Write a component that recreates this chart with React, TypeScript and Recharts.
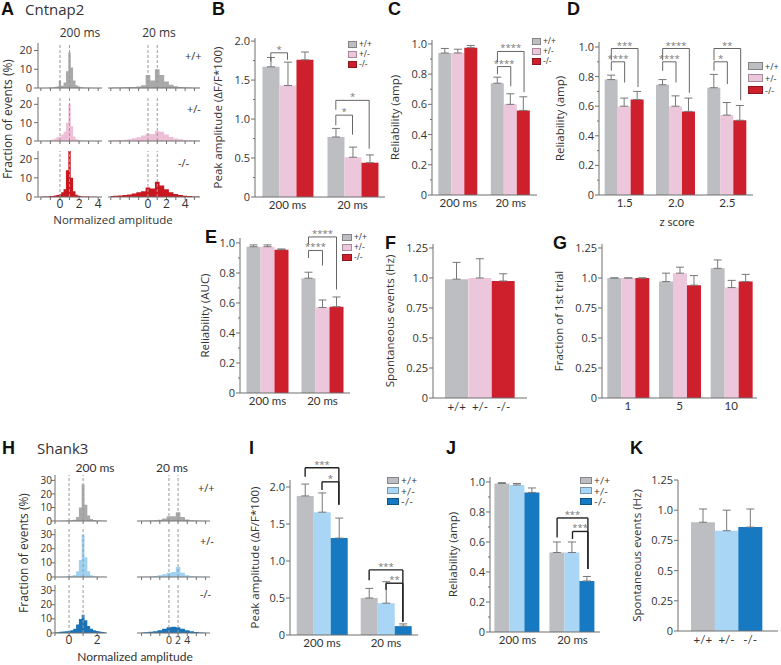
import React from 'react';
import { BarChart, Bar, XAxis, YAxis, ErrorBar, ReferenceLine, ReferenceDot, AreaChart, Area, Cell } from 'recharts';

const SANS = "'Open Sans', 'DejaVu Sans', sans-serif";
const NARROW = "Lato, 'Open Sans', sans-serif";
const BOLD = "'Liberation Sans', Arial, sans-serif";
const AXIS = '#6e6e6e';
const INK = '#333';
const ERR = '#777';

const GENO = ['+/+', '+/-', '-/-'];
const CNT_BAR = ['#bdbec2', '#ecc7dc', '#cd1f2c'];
const SHK_BAR = ['#bdbec2', '#a9d6f4', '#1779c1'];
const CNT_HIST = ['#a9a9a9', '#efbfd7', '#c9171f'];
const SHK_HIST = ['#a9a9a9', '#9fd1f2', '#1a73b7'];

// A - Cntnap2 amplitude histograms (% of events per bin)
const binsA200 = [-2, -1.75, -1.5, -1.25, -1, -0.75, -0.5, -0.25, 0, 0.25, 0.5, 0.75, 1, 1.25, 1.5, 1.75, 2, 2.25, 2.5, 2.75, 3, 3.25, 3.5, 3.75, 4];
const histA200WT = [0, 0, 0, 0.2, 0.3, 0.3, 0.5, 0.8, 4, 1.2, 3, 9, 19, 11, 4, 1.5, 0.8, 0.4, 0.3, 0.2, 0.1, 0.1, 0, 0, 0];
const histA200Het = [0, 0.1, 0.2, 0.3, 0.5, 0.8, 1.2, 2, 2.5, 3.5, 5, 10, 20, 8, 2.5, 1, 0.5, 0.3, 0.2, 0.1, 0, 0, 0, 0, 0];
const histA200KO = [0.1, 0.2, 0.3, 0.3, 0.5, 0.5, 0.8, 1, 1.5, 2.5, 4, 14, 24, 10, 3, 1.2, 0.6, 0.4, 0.3, 0.2, 0.2, 0.1, 0.1, 0.1, 0];
const binsA20 = [-4, -3.5, -3, -2.5, -2, -1.5, -1, -0.5, 0, 0.5, 1, 1.5, 2, 2.5, 3, 3.5, 4, 4.5, 5, 5.5];
const histA20WT = [0.2, 0.3, 0.3, 0.4, 0.5, 0.6, 0.8, 1.5, 7, 4, 10, 7, 3.5, 1.8, 1, 0.6, 0.4, 0.3, 0.2, 0.1];
const histA20Het = [0.3, 0.4, 0.5, 0.7, 1, 1.5, 2, 3, 4, 3.8, 5.5, 5, 3.5, 2.2, 1.4, 0.9, 0.6, 0.4, 0.3, 0.2];
const histA20KO = [0.5, 0.6, 0.8, 1, 1.3, 1.8, 2.5, 3, 5, 4.5, 8, 6, 4, 2.5, 1.6, 1, 0.7, 0.5, 0.3, 0.2];

// H - Shank3 amplitude histograms
const binsH200 = [-1, -0.8, -0.6, -0.4, -0.2, 0, 0.2, 0.4, 0.6, 0.8, 1, 1.2, 1.4, 1.6, 1.8, 2, 2.2, 2.4, 2.6];
const histH200WT = [0, 0, 0.1, 0.2, 0.3, 0.4, 0.6, 1, 3, 10, 27, 12, 4, 1.5, 0.8, 0.4, 0.3, 0.2, 0.1];
const histH200Het = [0, 0, 0, 0.1, 0.3, 0.5, 0.8, 1.5, 4, 12, 30, 14, 4, 1.2, 0.6, 0.3, 0.2, 0.1, 0];
const histH200KO = [0.3, 0.5, 0.8, 1, 1.2, 1.5, 2, 3, 6, 10, 13, 9, 5, 3, 2, 1.5, 1, 0.7, 0.5];
const binsH20 = [-6, -5, -4, -3, -2, -1, 0, 1, 2, 3, 4, 5, 6, 7, 8];
const histH20WT = [0.1, 0.2, 0.4, 0.6, 1, 1.8, 3.5, 3.5, 6.5, 3, 1.2, 0.6, 0.3, 0.2, 0.1];
const histH20Het = [0.1, 0.2, 0.4, 0.7, 1.2, 2, 3, 3.5, 7, 3, 1.2, 0.6, 0.3, 0.2, 0.1];
const histH20KO = [0.3, 0.5, 0.8, 1.2, 2, 3, 4, 4.5, 4, 3, 2, 1.2, 0.7, 0.4, 0.2];

// B-G Cntnap2 summary
const catsMs = ['200 ms', '20 ms'];
const peakCntWT = [1.67, 0.77];
const peakCntHet = [1.43, 0.51];
const peakCntKO = [1.76, 0.44];
const peakCntErrWT = [0.12, 0.11];
const peakCntErrHet = [0.3, 0.13];
const peakCntErrKO = [0.1, 0.1];

const relCntWT = [0.94, 0.74];
const relCntHet = [0.94, 0.6];
const relCntKO = [0.975, 0.56];
const relCntErrWT = [0.03, 0.04];
const relCntErrHet = [0.025, 0.07];
const relCntErrKO = [0.015, 0.09];

const zScores = ['1.5', '2.0', '2.5'];
const relZWT = [0.78, 0.745, 0.725];
const relZHet = [0.6, 0.6, 0.54];
const relZKO = [0.645, 0.565, 0.505];
const relZErrWT = [0.03, 0.035, 0.09];
const relZErrHet = [0.055, 0.07, 0.085];
const relZErrKO = [0.055, 0.09, 0.1];

const aucCntWT = [0.975, 0.765];
const aucCntHet = [0.975, 0.57];
const aucCntKO = [0.955, 0.575];
const aucCntErrWT = [0.012, 0.04];
const aucCntErrHet = [0.012, 0.05];
const aucCntErrKO = [0.005, 0.065];

const spontCnt = [0.99, 1.0, 0.975];
const spontCntErr = [0.14, 0.16, 0.06];

const trials = ['1', '5', '10'];
const fracWT = [1.0, 0.97, 1.08];
const fracHet = [1.0, 1.04, 0.92];
const fracKO = [1.0, 0.94, 0.97];
const fracErrWT = [0, 0.07, 0.07];
const fracErrHet = [0, 0.05, 0.06];
const fracErrKO = [0, 0.08, 0.06];

// I-K Shank3 summary
const peakShkWT = [1.88, 0.5];
const peakShkHet = [1.66, 0.43];
const peakShkKO = [1.31, 0.12];
const peakShkErrWT = [0.16, 0.13];
const peakShkErrHet = [0.26, 0.29];
const peakShkErrKO = [0.27, 0.03];

const relShkWT = [0.99, 0.53];
const relShkHet = [0.98, 0.53];
const relShkKO = [0.93, 0.34];
const relShkErrWT = [0.005, 0.07];
const relShkErrHet = [0.01, 0.07];
const relShkErrKO = [0.03, 0.03];

const spontShk = [0.9, 0.83, 0.86];
const spontShkErr = [0.11, 0.17, 0.15];

type Bracket = { g: number; a: number; b: number; top: number; la: number; lb: number; text: string };

// significance brackets: group, bar from/to, top value, leg bottoms
const sigB: Bracket[] = [
  { g: 0, a: 0, b: 1, top: 1.85, la: 1.74, lb: 1.76, text: '*' },
  { g: 1, a: 0, b: 2, top: 1.24, la: 1.12, lb: 0.62, text: '*' },
  { g: 1, a: 0, b: 1, top: 1.05, la: 0.92, lb: 0.8, text: '*' },
];
const sigC: Bracket[] = [
  { g: 1, a: 0, b: 2, top: 0.95, la: 0.88, lb: 0.68, text: '****' },
  { g: 1, a: 0, b: 1, top: 0.85, la: 0.8, lb: 0.72, text: '****' },
];
const sigD: Bracket[] = [
  { g: 0, a: 0, b: 2, top: 0.99, la: 0.91, lb: 0.73, text: '***' },
  { g: 0, a: 0, b: 1, top: 0.9, la: 0.84, lb: 0.76, text: '****' },
  { g: 1, a: 0, b: 2, top: 0.99, la: 0.91, lb: 0.69, text: '****' },
  { g: 1, a: 0, b: 1, top: 0.9, la: 0.84, lb: 0.76, text: '****' },
  { g: 2, a: 0, b: 2, top: 0.99, la: 0.91, lb: 0.64, text: '**' },
  { g: 2, a: 0, b: 1, top: 0.9, la: 0.84, lb: 0.75, text: '*' },
];
const sigE: Bracket[] = [
  { g: 1, a: 0, b: 2, top: 1.04, la: 0.99, lb: 0.69, text: '****' },
  { g: 1, a: 0, b: 1, top: 0.95, la: 0.9, lb: 0.85, text: '****' },
];
const sigI: Bracket[] = [
  { g: 0, a: 0, b: 2, top: 2.26, la: 2.14, lb: 1.76, text: '***' },
  { g: 0, a: 1, b: 2, top: 2.07, la: 1.96, lb: 1.76, text: '*' },
  { g: 1, a: 0, b: 2, top: 0.88, la: 0.74, lb: 0.18, text: '***' },
  { g: 1, a: 1, b: 2, top: 0.7, la: 0.61, lb: 0.18, text: '**' },
];
const sigJ: Bracket[] = [
  { g: 1, a: 0, b: 2, top: 0.76, la: 0.63, lb: 0.42, text: '***' },
  { g: 1, a: 1, b: 2, top: 0.67, la: 0.62, lb: 0.42, text: '***' },
];

const tk1 = [0, 0.2, 0.4, 0.6, 0.8, 1.0];
const tk1m = [0.1, 0.3, 0.5, 0.7, 0.9];
const tk2 = [0, 0.5, 1.0, 1.5, 2.0];
const tk2m = [0.25, 0.75, 1.25, 1.75];
const tkQ = [0, 0.25, 0.5, 0.75, 1.0, 1.25];

const fmt1 = (v: number) => (v === 0 ? '0' : v.toFixed(1));
const fmtQ = (v: number) => (v === 0 ? '0' : v === 0.5 ? '0.5' : v === 1 ? '1.0' : String(v));

type Box = { x: number; y: number; w: number; h: number };

const YW = 60;
const PT = 40;
const PR = 6;
const XH = 24;

function yTick(majors: number[], fmt: (v: number) => string, lg = 5, size = 11) {
  return (t: any) => {
    const v = t.payload.value as number;
    const major = majors.some((m) => Math.abs(m - v) < 1e-9);
    return (
      <g>
        <line x1={t.x - (major ? 4 : 2)} x2={t.x} y1={t.y} y2={t.y} stroke={AXIS} strokeWidth={1} />
        {major && (
          <text x={t.x - lg} y={t.y} dy="0.36em" textAnchor="end" fontSize={size} fontFamily={SANS} fill={INK}>
            {fmt(v)}
          </text>
        )}
      </g>
    );
  };
}

function xTick(labels: number[] | null, size = 12) {
  return (t: any) => {
    const v = t.payload.value as number;
    const show = labels !== null && labels.includes(v);
    return (
      <g>
        <line x1={t.x} x2={t.x} y1={t.y} y2={t.y + 3} stroke={AXIS} strokeWidth={1} />
        {show && (
          <text x={t.x} y={t.y + 11} textAnchor="middle" fontSize={size} fontFamily={SANS} fill={INK}>
            {v}
          </text>
        )}
      </g>
    );
  };
}

type GroupProps = {
  box: Box;
  cats: string[];
  series: number[][];
  errs: number[][];
  colors: string[];
  top: number;
  majors: number[];
  minors: number[];
  fmt: (v: number) => string;
  gap: number;
  sig: Bracket[];
  yLabel: string;
  yLabelX: number;
  heavy?: boolean;
  catFont?: string;
};

function GroupPanel(p: GroupProps) {
  const n = p.cats.length;
  const data = p.cats.map((c, i) => ({
    c,
    i,
    v0: p.series[0][i],
    v1: p.series[1][i],
    v2: p.series[2][i],
    e0: [0, p.errs[0][i]],
    e1: [0, p.errs[1][i]],
    e2: [0, p.errs[2][i]],
  }));
  const barX = (g: number, j: number) => g + p.gap + ((j + 0.5) * (1 - 2 * p.gap)) / 3;
  const stroke = p.heavy ? '#222' : '#555';
  const sw = p.heavy ? 1.4 : 0.9;
  const marks = p.sig.flatMap((b, k) => {
    const xa = barX(b.g, b.a);
    const xb = barX(b.g, b.b);
    return [
      <ReferenceLine key={`l${k}`} xAxisId="n" segment={[{ x: xa, y: b.la }, { x: xa, y: b.top }]} stroke={stroke} strokeWidth={sw} ifOverflow="visible" />,
      <ReferenceLine key={`t${k}`} xAxisId="n" segment={[{ x: xa, y: b.top }, { x: xb, y: b.top }]} stroke={stroke} strokeWidth={sw} ifOverflow="visible" />,
      <ReferenceLine key={`r${k}`} xAxisId="n" segment={[{ x: xb, y: b.top }, { x: xb, y: b.lb }]} stroke={stroke} strokeWidth={sw} ifOverflow="visible" />,
      <ReferenceDot
        key={`s${k}`}
        xAxisId="n"
        x={(xa + xb) / 2}
        y={b.top}
        r={0}
        fill="none"
        stroke="none"
        ifOverflow="visible"
        label={{ value: b.text, position: 'top', offset: 0, fill: '#777', fontSize: 9.5, fontFamily: SANS }}
      />,
    ];
  });
  const ticks = [...p.majors, ...p.minors].sort((a, b) => a - b);
  return (
    <div style={{ position: 'absolute', left: p.box.x - YW, top: p.box.y - PT }}>
      <BarChart
        width={YW + p.box.w + PR}
        height={PT + p.box.h + XH}
        data={data}
        margin={{ top: PT, right: PR, bottom: 0, left: 0 }}
        barCategoryGap={`${p.gap * 100}%`}
        barGap={0}
      >
        <XAxis
          dataKey="c"
          height={XH}
          interval={0}
          tickSize={0}
          tickMargin={4}
          axisLine={{ stroke: AXIS }}
          tickLine={false}
          tick={{ fontSize: 11.5, fontFamily: p.catFont || NARROW, fill: INK }}
        />
        <XAxis xAxisId="n" type="number" dataKey="i" domain={[0, n]} allowDataOverflow hide />
        <YAxis
          width={YW}
          domain={[0, p.top]}
          allowDataOverflow
          ticks={ticks}
          interval={0}
          tickSize={0}
          tickMargin={0}
          tickLine={false}
          axisLine={{ stroke: AXIS }}
          tick={yTick(p.majors, p.fmt)}
          label={{
            value: p.yLabel,
            angle: -90,
            position: 'insideLeft',
            offset: p.yLabelX - (p.box.x - YW),
            style: { textAnchor: 'middle', fontSize: 11.5, fontFamily: SANS, fill: INK },
          }}
        />
        {[0, 1, 2].map((j) => (
          <Bar key={j} dataKey={`v${j}`} fill={p.colors[j]} isAnimationActive={false}>
            <ErrorBar dataKey={`e${j}`} width={4} stroke={ERR} strokeWidth={1} direction="y" isAnimationActive={false} />
          </Bar>
        ))}
        {marks}
      </BarChart>
    </div>
  );
}

type GenoProps = {
  box: Box;
  vals: number[];
  errs: number[];
  colors: string[];
  top: number;
  pad: [number, number];
  yLabel: string;
  yLabelX: number;
};

function GenoPanel(p: GenoProps) {
  const data = GENO.map((c, i) => ({ c, v: p.vals[i], e: [0, p.errs[i]] }));
  return (
    <div style={{ position: 'absolute', left: p.box.x - YW, top: p.box.y - PT }}>
      <BarChart
        width={YW + p.box.w + PR}
        height={PT + p.box.h + XH}
        data={data}
        margin={{ top: PT, right: PR, bottom: 0, left: 0 }}
        barCategoryGap={0}
        barGap={0}
      >
        <XAxis
          dataKey="c"
          height={XH}
          interval={0}
          padding={{ left: p.pad[0], right: p.pad[1] }}
          tickSize={0}
          tickMargin={5}
          axisLine={{ stroke: AXIS }}
          tickLine={false}
          tick={{ fontSize: 11.5, fontFamily: NARROW, fill: INK }}
        />
        <YAxis
          width={YW}
          domain={[0, p.top]}
          allowDataOverflow
          ticks={tkQ}
          interval={0}
          tickSize={0}
          tickMargin={0}
          tickLine={false}
          axisLine={{ stroke: AXIS }}
          tick={yTick(tkQ, fmtQ)}
          label={{
            value: p.yLabel,
            angle: -90,
            position: 'insideLeft',
            offset: p.yLabelX - (p.box.x - YW),
            style: { textAnchor: 'middle', fontSize: 11.5, fontFamily: SANS, fill: INK },
          }}
        />
        <Bar dataKey="v" isAnimationActive={false}>
          {data.map((d, i) => (
            <Cell key={d.c} fill={p.colors[i]} />
          ))}
          <ErrorBar dataKey="e" width={4} stroke={ERR} strokeWidth={1} direction="y" isAnimationActive={false} />
        </Bar>
      </BarChart>
    </div>
  );
}

type HistProps = {
  box: Box;
  bins: number[];
  vals: number[];
  color: string;
  xDomain: [number, number];
  xTicks: number[];
  xLabels: number[] | null;
  showY: boolean;
  yTicks: number[];
  yTop: number;
  dashes: number[];
  yLabel?: string;
  yLabelX?: number;
  lg?: number;
  tickFont?: number;
  xFont?: number;
};

function HistRow(p: HistProps) {
  const yw = p.showY ? 40 : 0;
  const top = 6;
  const data = p.bins.map((x, i) => ({ x, v: p.vals[i] }));
  return (
    <div style={{ position: 'absolute', left: p.box.x - yw, top: p.box.y - top }}>
      <AreaChart width={yw + p.box.w} height={p.box.h + top + 16} data={data} margin={{ top, right: 0, bottom: 0, left: 0 }}>
        <XAxis
          type="number"
          dataKey="x"
          domain={p.xDomain}
          allowDataOverflow
          ticks={p.xTicks}
          interval={0}
          height={16}
          tickSize={0}
          tickMargin={0}
          tickLine={false}
          axisLine={{ stroke: AXIS }}
          tick={xTick(p.xLabels, p.xFont ?? 12)}
        />
        <YAxis
          hide={!p.showY}
          width={yw}
          domain={[0, p.yTop]}
          allowDataOverflow
          ticks={p.yTicks}
          interval={0}
          tickSize={0}
          tickMargin={0}
          tickLine={false}
          axisLine={{ stroke: AXIS }}
          tick={yTick(p.yTicks, (v) => String(v), p.lg ?? 6, p.tickFont ?? 11)}
          label={
            p.yLabel
              ? {
                  value: p.yLabel,
                  angle: -90,
                  position: 'insideLeft',
                  offset: (p.yLabelX ?? 0) - (p.box.x - yw),
                  style: { textAnchor: 'middle', fontSize: 12, fontFamily: SANS, fill: INK },
                }
              : undefined
          }
        />
        {p.dashes.map((d) => (
          <ReferenceLine key={d} x={d} stroke="#9a9a9a" strokeDasharray="3 2" />
        ))}
        <Area type="step" dataKey="v" stroke="none" fill={p.color} fillOpacity={1} isAnimationActive={false} dot={false} activeDot={false} />
      </AreaChart>
    </div>
  );
}

const Txt = ({ x, y, children, size = 11, family = SANS, weight = 400, anchor = 'start', color = INK }: any) => (
  <div
    style={{
      position: 'absolute',
      left: x,
      top: y,
      transform: `translate(${anchor === 'middle' ? '-50%' : anchor === 'end' ? '-100%' : '0'}, -50%)`,
      fontSize: size,
      fontFamily: family,
      fontWeight: weight,
      color,
      whiteSpace: 'nowrap',
      lineHeight: 1,
    }}
  >
    {children}
  </div>
);

const Key = ({ x, rows, colors, sw, sh, size, family = SANS }: any) => (
  <>
    {GENO.map((g, i) => (
      <React.Fragment key={g}>
        <div
          style={{
            position: 'absolute',
            left: x,
            top: rows[i] - sh / 2,
            width: sw,
            height: sh,
            background: colors[i],
            boxSizing: 'border-box',
            border: '1px solid rgba(0,0,0,0.3)',
          }}
        />
        <Txt x={x + sw + 2} y={rows[i]} size={size} family={family}>
          {g}
        </Txt>
      </React.Fragment>
    ))}
  </>
);

const Letter = ({ x, y, c }: any) => (
  <Txt x={x} y={y} size={18} family={BOLD} weight={700} color="#111">
    {c}
  </Txt>
);

export default function App() {
  const aRows = [
    { y: 43, h: 45 },
    { y: 97, h: 44 },
    { y: 151, h: 46 },
  ];
  const aLeft = [histA200WT, histA200Het, histA200KO];
  const aRight = [histA20WT, histA20Het, histA20KO];
  const hRows = [
    { y: 475, h: 46 },
    { y: 529, h: 48 },
    { y: 585, h: 48 },
  ];
  const hLeft = [histH200WT, histH200Het, histH200KO];
  const hRight = [histH20WT, histH20Het, histH20KO];

  return (
    <div style={{ position: 'relative', width: 781, height: 665, background: '#fff', overflow: 'hidden' }}>
      <style>{'body{margin:0} .recharts-surface{overflow:visible}'}</style>

      {aRows.map((r, i) => (
        <React.Fragment key={`a${i}`}>
          <HistRow
            box={{ x: 38, y: r.y, w: 64, h: r.h }}
            bins={binsA200}
            vals={aLeft[i]}
            color={CNT_HIST[i]}
            xDomain={[-2.3, 4.4]}
            xTicks={[-2, -1, 0, 1, 2, 3, 4]}
            xLabels={i === 2 ? [0, 2, 4] : null}
            showY
            yTicks={[0, 10, 20]}
            yTop={24}
            dashes={[0, 1]}
            yLabel={i === 1 ? 'Fraction of events (%)' : undefined}
            yLabelX={8}
          />
          <HistRow
            box={{ x: 108, y: r.y, w: 92, h: r.h }}
            bins={binsA20}
            vals={aRight[i]}
            color={CNT_HIST[i]}
            xDomain={[-4.3, 5.6]}
            xTicks={[-4, -3, -2, -1, 0, 1, 2, 3, 4, 5]}
            xLabels={i === 2 ? [0, 2, 4] : null}
            showY={false}
            yTicks={[0, 10, 20]}
            yTop={24}
            dashes={[0, 1]}
          />
        </React.Fragment>
      ))}

      {hRows.map((r, i) => (
        <React.Fragment key={`h${i}`}>
          <HistRow
            box={{ x: 55, y: r.y, w: 52, h: r.h }}
            bins={binsH200}
            vals={hLeft[i]}
            color={SHK_HIST[i]}
            xDomain={[-1, 2.7]}
            xTicks={[-1, 0, 1, 2]}
            xLabels={i === 2 ? [0, 2] : null}
            showY
            yTicks={[0, 10, 20, 30]}
            yTop={34}
            dashes={[0, 1]}
            yLabel={i === 1 ? 'Fraction of events (%)' : undefined}
            yLabelX={24}
            lg={3}
            tickFont={10}
          />
          <HistRow
            box={{ x: 137, y: r.y, w: 73, h: r.h }}
            bins={binsH20}
            vals={hRight[i]}
            color={SHK_HIST[i]}
            xDomain={[-7, 9]}
            xTicks={[-6, -4, -2, 0, 2, 4, 6, 8]}
            xLabels={i === 2 ? [0, 2, 4] : null}
            showY={false}
            yTicks={[0, 10, 20, 30]}
            yTop={34}
            dashes={[0, 2]}
            xFont={10.5}
          />
        </React.Fragment>
      ))}

      <GroupPanel
        box={{ x: 255, y: 38, w: 130, h: 159 }}
        cats={catsMs}
        series={[peakCntWT, peakCntHet, peakCntKO]}
        errs={[peakCntErrWT, peakCntErrHet, peakCntErrKO]}
        colors={CNT_BAR}
        top={2.04}
        majors={tk2}
        minors={tk2m}
        fmt={fmt1}
        gap={0.115}
        sig={sigB}
        yLabel="Peak amplitude (ΔF/F*100)"
        yLabelX={218}
      />
      <GroupPanel
        box={{ x: 432, y: 40, w: 105, h: 155 }}
        cats={catsMs}
        series={[relCntWT, relCntHet, relCntKO]}
        errs={[relCntErrWT, relCntErrHet, relCntErrKO]}
        colors={CNT_BAR}
        top={1.026}
        majors={tk1}
        minors={tk1m}
        fmt={fmt1}
        gap={0.12}
        sig={sigC}
        yLabel="Reliability (amp)"
        yLabelX={395}
      />
      <GroupPanel
        box={{ x: 599, y: 42, w: 154, h: 153 }}
        cats={zScores}
        series={[relZWT, relZHet, relZKO]}
        errs={[relZErrWT, relZErrHet, relZErrKO]}
        colors={CNT_BAR}
        top={1.034}
        majors={tk1}
        minors={tk1m}
        fmt={fmt1}
        gap={0.11}
        sig={sigD}
        yLabel="Reliability (amp)"
        yLabelX={560}
      />
      <GroupPanel
        box={{ x: 240, y: 238, w: 110, h: 155 }}
        cats={catsMs}
        series={[aucCntWT, aucCntHet, aucCntKO]}
        errs={[aucCntErrWT, aucCntErrHet, aucCntErrKO]}
        colors={CNT_BAR}
        top={1.033}
        majors={tk1}
        minors={tk1m}
        fmt={fmt1}
        gap={0.118}
        sig={sigE}
        yLabel="Reliability (AUC)"
        yLabelX={205}
      />
      <GenoPanel
        box={{ x: 433, y: 244, w: 94, h: 154 }}
        vals={spontCnt}
        errs={spontCntErr}
        colors={CNT_BAR}
        top={1.283}
        pad={[12, 12]}
        yLabel="Spontaneous events (Hz)"
        yLabelX={390}
      />
      <GroupPanel
        box={{ x: 602, y: 244, w: 155, h: 154 }}
        cats={trials}
        series={[fracWT, fracHet, fracKO]}
        errs={[fracErrWT, fracErrHet, fracErrKO]}
        colors={CNT_BAR}
        top={1.283}
        majors={tkQ}
        minors={[]}
        fmt={fmtQ}
        gap={0.103}
        sig={[]}
        yLabel="Fraction of 1st trial"
        yLabelX={559}
      />
      <GroupPanel
        box={{ x: 290, y: 480, w: 128, h: 155 }}
        cats={catsMs}
        series={[peakShkWT, peakShkHet, peakShkKO]}
        errs={[peakShkErrWT, peakShkErrHet, peakShkErrKO]}
        colors={SHK_BAR}
        top={2.095}
        majors={tk2}
        minors={[]}
        fmt={fmt1}
        gap={0.105}
        sig={sigI}
        yLabel="Peak amplitude (ΔF/F*100)"
        yLabelX={255}
        heavy
      />
      <GroupPanel
        box={{ x: 490, y: 477, w: 110, h: 155 }}
        cats={catsMs}
        series={[relShkWT, relShkHet, relShkKO]}
        errs={[relShkErrWT, relShkErrHet, relShkErrKO]}
        colors={SHK_BAR}
        top={1.033}
        majors={tk1}
        minors={tk1m}
        fmt={fmt1}
        gap={0.08}
        sig={sigJ}
        yLabel="Reliability (amp)"
        yLabelX={453}
        heavy
      />
      <GenoPanel
        box={{ x: 678, y: 480, w: 100, h: 151 }}
        vals={spontShk}
        errs={spontShkErr}
        colors={SHK_BAR}
        top={1.25}
        pad={[13, 16]}
        yLabel="Spontaneous events (Hz)"
        yLabelX={637}
      />

      <Letter x={1} y={9} c="A" />
      <Txt x={25} y={9} size={15}>Cntnap2</Txt>
      <Txt x={80} y={33} size={12} anchor="middle">200 ms</Txt>
      <Txt x={159} y={33} size={12} anchor="middle">20 ms</Txt>
      <Txt x={185} y={55} size={11}>+/+</Txt>
      <Txt x={187} y={108} size={11}>+/-</Txt>
      <Txt x={178} y={162} size={11}>-/-</Txt>
      <Txt x={113} y={220} size={11.5} anchor="middle">Normalized amplitude</Txt>

      <Letter x={212} y={9} c="B" />
      <Letter x={388} y={9} c="C" />
      <Letter x={567} y={9} c="D" />
      <Letter x={205} y={237} c="E" />
      <Letter x={385} y={243} c="F" />
      <Letter x={553} y={243} c="G" />
      <Txt x={677} y={222} size={11.5} family={NARROW} anchor="middle">z score</Txt>

      <Key x={348} rows={[44, 54, 64]} colors={CNT_BAR} sw={9} sh={7} size={8.5} />
      <Key x={532} rows={[41, 51, 61]} colors={CNT_BAR} sw={9} sh={7} size={8.5} />
      <Key x={748} rows={[66, 78, 90]} colors={CNT_BAR} sw={15} sh={8} size={9} />
      <Key x={342} rows={[237, 247, 257]} colors={CNT_BAR} sw={10} sh={7} size={8.5} />

      <Letter x={2} y={448} c="H" />
      <Txt x={37} y={448} size={15}>Shank3</Txt>
      <Txt x={95} y={468} size={12} family={NARROW} anchor="middle">200 ms</Txt>
      <Txt x={172} y={468} size={12} family={NARROW} anchor="middle">20 ms</Txt>
      <Txt x={198} y={487} size={11}>+/+</Txt>
      <Txt x={200} y={540} size={11}>+/-</Txt>
      <Txt x={200} y={593} size={11}>-/-</Txt>
      <Txt x={135} y={657} size={12} family={NARROW} anchor="middle">Normalized amplitude</Txt>

      <Letter x={249} y={448} c="I" />
      <Letter x={446} y={448} c="J" />
      <Letter x={630} y={448} c="K" />
      <Key x={387} rows={[480, 490.5, 501]} colors={SHK_BAR} sw={12} sh={7} size={10} family={NARROW} />
      <Key x={580} rows={[480, 490.5, 501]} colors={SHK_BAR} sw={12} sh={7} size={10} family={NARROW} />
    </div>
  );
}
